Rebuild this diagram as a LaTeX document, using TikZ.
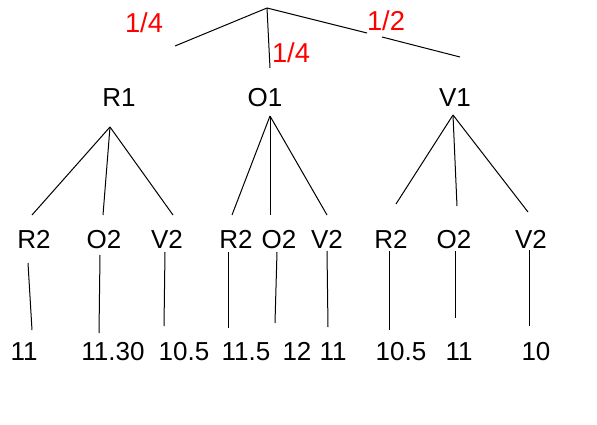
\documentclass[tikz,border=0pt]{standalone}
\usepackage{fontspec}
\setmainfont{Liberation Sans}
\begin{document}
\begin{tikzpicture}[x=0.75pt, y=-0.75pt, line width=0.75pt,
    lbl/.style={font=\fontsize{19.5}{22}\selectfont, inner sep=0pt, anchor=base},
    prob/.style={lbl, font=\fontsize{20.5}{22}\selectfont, text=red}]
    \useasboundingbox (0,0) rectangle (597,425);

    % first level
    \node[lbl] (r1) at (119,106) {R1};
    \node[lbl] (o1) at (265,106) {O1};
    \node[lbl] (v1) at (455,106) {V1};

    % second level
    \node[lbl] (r1r) at (34,248) {R2};
    \node[lbl] (r1o) at (104,248) {O2};
    \node[lbl] (r1v) at (167,248) {V2};
    \node[lbl] (o1r) at (236,248) {R2};
    \node[lbl] (o1o) at (279,248) {O2};
    \node[lbl] (o1v) at (327,248) {V2};
    \node[lbl] (v1r) at (391,248) {R2};
    \node[lbl] (v1o) at (454,248) {O2};
    \node[lbl] (v1v) at (531,248) {V2};

    % values
    \node[lbl] (r1rval) at (24,360) {11};
    \node[lbl] (r1oval) at (113,360) {11.30};
    \node[lbl] (r1vval) at (184,360) {10.5};
    \node[lbl] (o1rval) at (246,360) {11.5};
    \node[lbl] (o1oval) at (297,360) {12};
    \node[lbl] (o1vval) at (333,360) {11};
    \node[lbl] (v1rval) at (401,360) {10.5};
    \node[lbl] (v1oval) at (459,360) {11};
    \node[lbl] (v1vval) at (536,360) {10};

    % probabilities
    \node[prob] (pr) at (144,32) {1/4};
    \node[prob] (po) at (291,62) {1/4};
    \node[prob] (pv) at (386,30) {1/2};

    % line ends
    \coordinate (root) at (267,8);
    \coordinate (rootr) at (175,46);
    \coordinate (rooto) at (270,68);
    \coordinate (rootva) at (367,33);
    \coordinate (rootvb) at (382,37);
    \coordinate (rootv) at (460,57);
    \coordinate (r1top) at (110,127);
    \coordinate (o1top) at (270,116);
    \coordinate (v1top) at (453,115);
    \foreach \name/\x/\y in {r1r/32/215, r1o/103/215, r1v/173/215,
        o1r/232/215, o1o/270/215, o1v/327/215,
        v1r/396/204, v1o/457/206, v1v/528/212}
        \coordinate (\name up) at (\x,\y);
    \foreach \name/\xa/\ya/\xb/\yb in {r1r/28/263/32/330, r1o/100/255/99/333,
        r1v/165/252/164/326, o1r/228/252/228/328, o1o/277/252/275/323,
        o1v/327/251/328/327, v1r/389/251/389/330, v1o/455/251/455/318,
        v1v/529/250/529/326} {
        \coordinate (\name down) at (\xa,\ya);
        \coordinate (\name val) at (\xb,\yb);
    }

    \draw (root) -- (rootr);
    \draw (root) -- (rooto);
    \draw (root) -- (rootva);
    \draw (rootvb) -- (rootv);
    \foreach \a in {r1, o1, v1}
        \foreach \b in {r, o, v}
            \draw (\a top) -- (\a\b up);
    \foreach \a in {r1r, r1o, r1v, o1r, o1o, o1v, v1r, v1o, v1v}
        \draw (\a down) -- (\a val);
\end{tikzpicture}
\end{document}
